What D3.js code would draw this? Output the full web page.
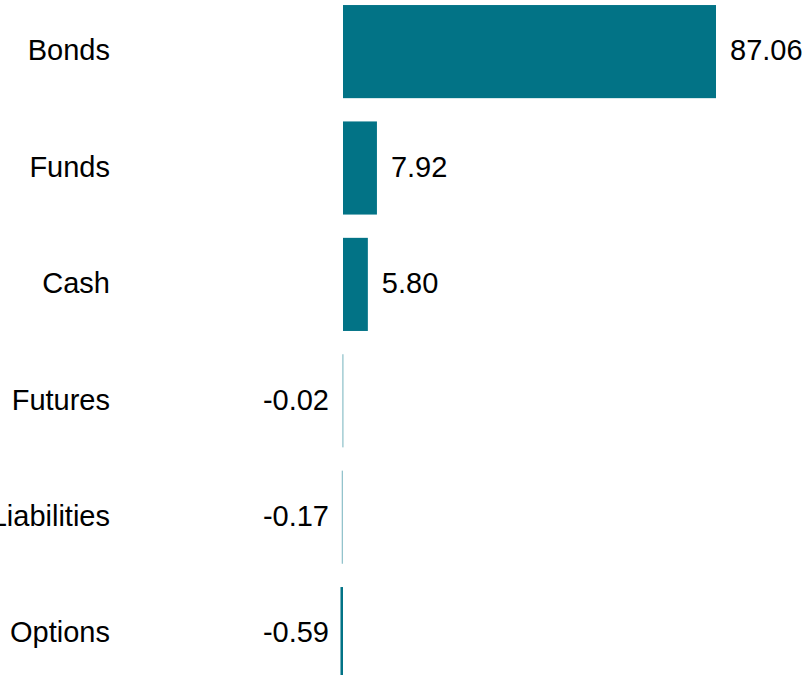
<!DOCTYPE html>
<html><head><meta charset="utf-8">
<script src="https://cdn.jsdelivr.net/npm/d3@7"></script>
<style>body{margin:0;background:#fff;} svg{display:block;}</style>
</head><body>
<svg id="chart" width="811" height="675"></svg>
<script>
const categories = ["Bonds","Funds","Cash","Futures","Liabilities","Options"];
const values = [87.06, 7.92, 5.80, -0.02, -0.17, -0.59];

const svg = d3.select("#chart");
const x = d3.scaleLinear().domain([0, 87.06]).range([343, 716]);
const y = d3.scaleBand().domain(categories).range([-6.6, 691.8]).paddingInner(0.2).paddingOuter(0.1);

const color = "#027386";
const font = "Arial, 'Liberation Sans', sans-serif";
const fs = 29;

svg.selectAll("rect.bar").data(categories).join("rect")
  .attr("class","bar")
  .attr("x", (d,i) => Math.min(x(0), x(values[i])) - (Math.abs(x(values[i]) - x(0)) < 1 ? 0.5 : 0))
  .attr("y", d => y(d))
  .attr("width", (d,i) => Math.max(1, Math.abs(x(values[i]) - x(0))))
  .attr("height", y.bandwidth())
  .attr("fill", color)
  .attr("opacity", (d,i) => Math.abs(x(values[i]) - x(0)) < 1 ? 0.55 : 1);

svg.selectAll("text.cat").data(categories).join("text")
  .attr("class","cat")
  .attr("x", 110)
  .attr("y", d => y(d) + y.bandwidth()/2)
  .attr("dy", "0.3em")
  .attr("text-anchor","end")
  .attr("font-family", font)
  .attr("font-size", fs)
  .attr("fill", "#000")
  .text(d => d);

svg.selectAll("text.val").data(categories).join("text")
  .attr("class","val")
  .attr("x", (d,i) => values[i] >= 0 ? x(values[i]) + 14 : x(0) - 14)
  .attr("y", d => y(d) + y.bandwidth()/2)
  .attr("dy", "0.3em")
  .attr("text-anchor", (d,i) => values[i] >= 0 ? "start" : "end")
  .attr("font-family", font)
  .attr("font-size", fs)
  .attr("fill", "#000")
  .text((d,i) => values[i].toFixed(2));
</script>
</body></html>
